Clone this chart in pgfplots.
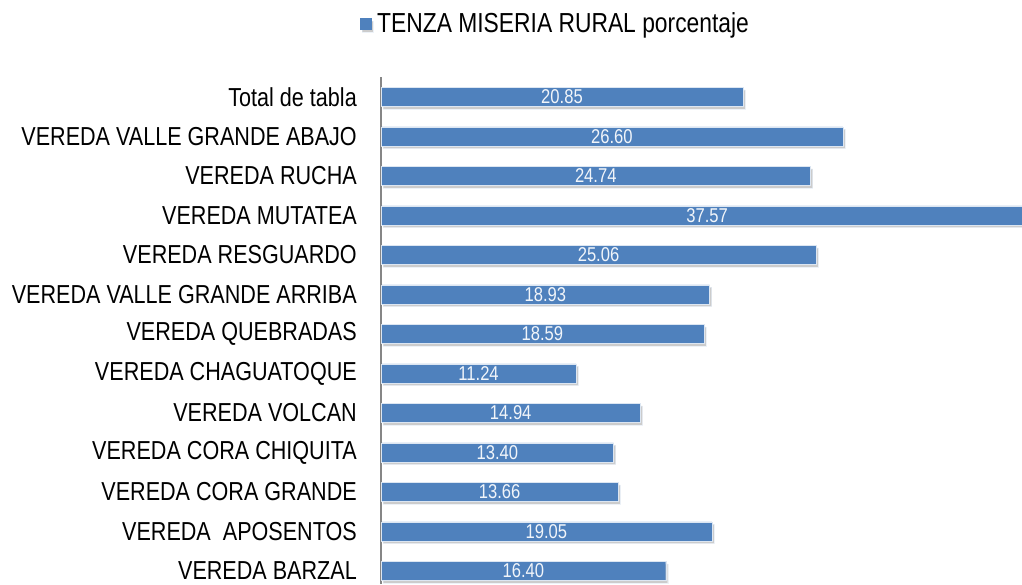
\documentclass[border=0pt]{standalone}
\usepackage{pgfplots}
\pgfplotsset{compat=1.18}
\usepackage{pgfplotstable}
\usepackage{fontspec}
\setmainfont{Liberation Sans}[FakeStretch=0.83]
\usetikzlibrary{shadows}
\definecolor{barblue}{HTML}{4F81BD}
\definecolor{axisgray}{HTML}{868686}

\pgfplotstableread{
idx v
0 16.40
1 19.05
2 13.66
3 13.40
4 14.94
5 11.24
6 18.59
7 18.93
8 25.06
9 37.57
10 24.74
11 26.60
12 20.85
}\datatable

\begin{document}
\begin{tikzpicture}
\useasboundingbox (0pt,0pt) rectangle (1022pt,584pt);
\begin{axis}[
  at={(381pt,0pt)}, anchor=south west,
  scale only axis,
  width=641pt, height=507pt,
  xmin=0, xmax=36.92,
  ymin=-0.33, ymax=12.506,
  axis x line=none,
  axis y line*=left,
  axis line style={axisgray, line width=1.2pt, -},
  ytick={0,...,12},
  yticklabels={VEREDA BARZAL, VEREDA\ \ APOSENTOS, VEREDA CORA GRANDE, VEREDA CORA CHIQUITA, VEREDA VOLCAN, VEREDA CHAGUATOQUE, VEREDA QUEBRADAS, VEREDA VALLE GRANDE ARRIBA, VEREDA RESGUARDO, VEREDA MUTATEA, VEREDA RUCHA, VEREDA VALLE GRANDE ABAJO, Total de tabla},
  major tick length=0pt,
  ytick style={draw=none},
  yticklabel style={font=\fontsize{26}{28}\selectfont, inner sep=0pt, anchor=east, xshift=-24pt},
  /pgf/number format/assume math mode=true,
  legend style={at={(axis description cs:0.272,1.106)}, anchor=center, draw=none, fill=none, font=\fontsize{27.5}{29}\selectfont, inner sep=0pt},
  legend image code/.code={\fill[barblue] (0pt,-6pt) rectangle (11pt,5pt); \path (15pt,0pt);},
  legend cell align=left,
]
\addplot[xbar, bar width=19pt, bar shift=0pt, fill=barblue, draw=white!80!barblue, line width=0.4pt,
  drop shadow={shadow xshift=2pt, shadow yshift=-2.5pt, fill=black!40, opacity=0.5}]
  table[x=v, y=idx] {\datatable};
\addlegendentry{TENZA MISERIA RURAL porcentaje}
\addplot[draw=none, mark=none, nodes near coords, point meta=explicit,
  nodes near coords style={anchor=center, text=white!92!barblue, font=\fontsize{20}{20}\selectfont,
    /pgf/number format/.cd, fixed, fixed zerofill, precision=2}]
  table[x expr=\thisrow{v}/2, y=idx, meta=v] {\datatable};
\end{axis}
\end{tikzpicture}
\end{document}
